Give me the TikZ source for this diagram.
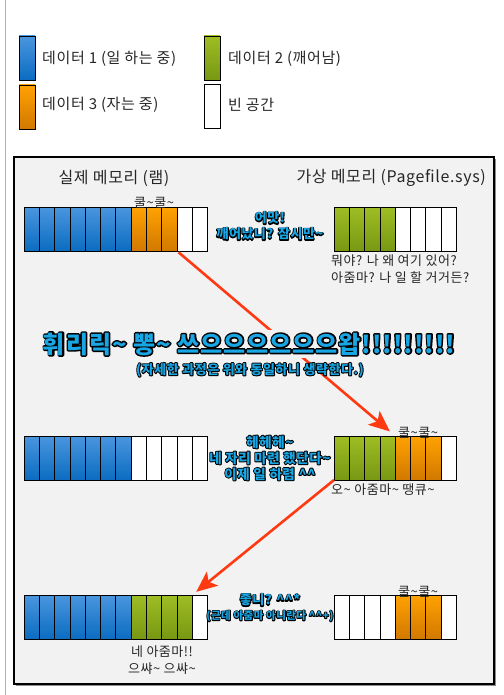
\documentclass[tikz,border=0pt]{standalone}
\usepackage{fontspec}
\setmainfont{Noto Sans CJK KR}[LetterSpace=4]
\usetikzlibrary{arrows.meta}

\definecolor{worktop}{HTML}{4A96DE}
\definecolor{workbot}{HTML}{0B6CC1}
\definecolor{sleeptop}{HTML}{FFA202}
\definecolor{sleepbot}{HTML}{D27800}
\definecolor{waketop}{HTML}{9FBD24}
\definecolor{wakebot}{HTML}{789813}
\definecolor{panel}{HTML}{F2F2F2}
\definecolor{talkcyan}{HTML}{19A6E4}
\definecolor{hopred}{HTML}{FF3A12}

% black outline under the cyan letters
\newcommand{\shout}[2][2]{\leavevmode\rlap{\special{pdf:literal direct 1 Tr #1 w 1 j 0 0 0 RG}#2\special{pdf:literal direct 0 Tr}}#2}
\newcommand{\wv}{\textasciitilde}
\newcommand{\hehe}{\textasciicircum\textasciicircum}

\tikzset{
  cell/.style={draw=black,line width=0.7pt,minimum width=15.3pt,minimum height=44pt,
    inner sep=0pt,outer sep=0pt,anchor=north west},
  work/.style={top color=worktop,bottom color=workbot},
  wake/.style={top color=waketop,bottom color=wakebot},
  sleep/.style={top color=sleeptop,bottom color=sleepbot},
  free/.style={fill=white},
  legendbox/.style={cell,minimum width=16pt},
  label/.style={font=\fontsize{13}{17}\selectfont,text=black!85,inner sep=0pt},
  keytext/.style={label,font=\fontsize{15}{17}\selectfont,anchor=west},
  title/.style={font=\fontsize{16}{18}\selectfont,text=black!85,inner sep=0pt},
  talk/.style={font=\bfseries\fontsize{13}{16}\selectfont,text=talkcyan,align=center,inner sep=0pt},
  hop/.style={draw=hopred,line width=2.6pt,-{Stealth[length=21pt,width=18pt,inset=5pt]}}
}

\begin{document}
\begin{tikzpicture}[x=1pt,y=-1pt]
\useasboundingbox (0,0) rectangle (503,695);
\draw[gray!60,line width=0.8pt] (5,0) -- (5,695);

% legend
\node[legendbox,work] (keywork) at (19,36) {};
\node[legendbox,wake] (keywake) at (204,36) {};
\node[legendbox,sleep] (keysleep) at (19,85) {};
\node[legendbox,free] (keyfree) at (204,84) {};
\node[keytext] at (42,59) {데이터 1 (일 하는 중)};
\node[keytext] at (228,59) {데이터 2 (깨어남)};
\node[keytext] at (42,105) {데이터 3 (자는 중)};
\node[keytext] at (228,105) {빈 공간};

% frame
\fill[black!45] (16,159) rectangle (496,686);
\draw[fill=panel,line width=1.4pt] (14,157) rectangle (494,684);
\node[title] (ramtitle) at (114,178) {실제 메모리 (램)};
\node[title,anchor=east] (pagetitle) at (486,178) {가상 메모리 (Pagefile.sys)};

% step 1
\foreach \k/\s in {1/work,2/work,3/work,4/work,5/work,6/work,7/work,8/sleep,9/sleep,10/sleep,11/free,12/free}
  \node[cell,\s] (ramA\k) at ({24+15.3*(\k-1)},207) {};
\foreach \k/\s in {1/wake,2/wake,3/wake,4/wake,5/free,6/free,7/free,8/free}
  \node[cell,\s] (pageA\k) at ({334+15.3*(\k-1)},207) {};

% step 2
\foreach \k/\s in {1/work,2/work,3/work,4/work,5/work,6/work,7/work,8/free,9/free,10/free,11/free,12/free}
  \node[cell,\s] (ramB\k) at ({24+15.3*(\k-1)},436) {};
\foreach \k/\s in {1/wake,2/wake,3/wake,4/wake,5/sleep,6/sleep,7/sleep,8/free}
  \node[cell,\s] (pageB\k) at ({334+15.3*(\k-1)},436) {};

% step 3
\foreach \k/\s in {1/work,2/work,3/work,4/work,5/work,6/work,7/work,8/wake,9/wake,10/wake,11/wake,12/free}
  \node[cell,\s] (ramC\k) at ({24+15.3*(\k-1)},595) {};
\foreach \k/\s in {1/free,2/free,3/free,4/free,5/sleep,6/sleep,7/sleep,8/free}
  \node[cell,\s] (pageC\k) at ({334+15.3*(\k-1)},595) {};

% swaps
\draw[hop,shorten <=2pt,shorten >=7pt] (ramA10.south east) -- (pageB5.north west);
\draw[hop,shorten >=5pt] (pageB1.south west) -- (ramC12.north west);

% texts
\node[label,anchor=south] (snoreA) at ([yshift=-2pt]ramA9.north) {쿨\wv 쿨\wv};
\node[label,anchor=south] (snoreB) at ([yshift=-3pt]pageB6.north) {쿨\wv 쿨\wv};
\node[label,anchor=south] (snoreC) at ([yshift=-3pt]pageC6.north) {쿨\wv 쿨\wv};

\node[talk] (talkA) at (270,226) {\shout{어맛!}\\\shout{깨어났니? 잠시만\wv}};
\node[label,anchor=north west,align=left] (askA) at (331,255)
  {뭐야? 나 왜 여기 있어?\\아줌마? 나 일 할 거거든?};

\node[talk,font=\bfseries\fontsize{24}{27}\selectfont,fill=panel,inner sep=3pt] (whoosh) at (249,344)
  {\shout[3]{휘리릭\wv{} 뽕\wv{} 쓰으으으으으으왑!!!!!!!!!}};
\node[talk,font=\bfseries\fontsize{13}{15}\selectfont] (skip) at (250,370)
  {\shout{(자세한 과정은 위와 동일하니 생략한다.)}};

\node[talk,font=\bfseries\fontsize{13.5}{16}\selectfont] (talkB) at (270,458)
  {\shout{헤헤헤\wv}\\\shout{네 자리 마련 했단다\wv}\\\shout{이제 일 하렴 \hehe}};
\node[label,anchor=west] (thanks) at (331,490) {오\wv{} 아줌마\wv{} 땡큐\wv};

\node[talk] (talkC) at (270,600) {\shout{좋니? \hehe*}};
\node[talk,font=\bfseries\fontsize{10.5}{12}\selectfont] (talkD) at (270,616) {\shout[1.8]{(근데 아줌마 아니란다 \hehe+)}};
\node[label,align=center] (heave) at (162,660) {네 아줌마!!\\으쌰\wv{} 으쌰\wv};
\end{tikzpicture}
\end{document}
